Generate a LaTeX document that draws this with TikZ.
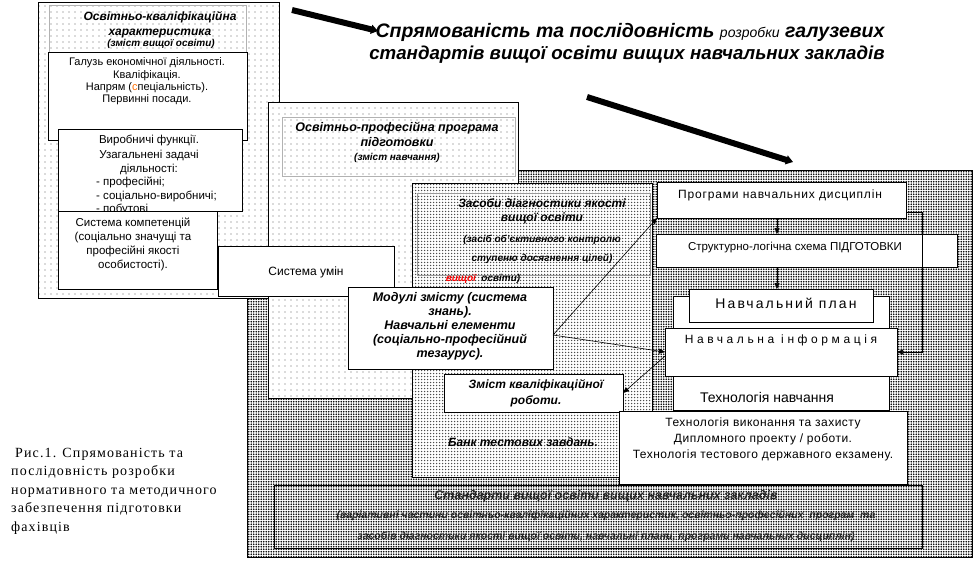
\documentclass[tikz,border=0pt]{standalone}
\usepackage{fontspec}
\setmainfont{Liberation Sans}
\newfontfamily\capfont{Liberation Serif}
\usetikzlibrary{patterns,arrows.meta}
\pgfdeclarepatternformonly{sdots}{\pgfqpoint{-1pt}{-1pt}}{\pgfqpoint{7pt}{7pt}}{\pgfqpoint{6pt}{6pt}}{\pgfpathcircle{\pgfqpoint{3pt}{3pt}}{0.55pt}\pgfusepath{fill}}
\pgfdeclarepatternformonly{mdots}{\pgfqpoint{-1pt}{-1pt}}{\pgfqpoint{4pt}{4pt}}{\pgfqpoint{3pt}{3pt}}{\pgfpathcircle{\pgfqpoint{1.5pt}{1.5pt}}{0.75pt}\pgfusepath{fill}}
\pgfdeclarepatternformonly{ddots}{\pgfqpoint{-1pt}{-1pt}}{\pgfqpoint{3.5pt}{3.5pt}}{\pgfqpoint{2.5pt}{2.5pt}}{\pgfpathcircle{\pgfqpoint{1.25pt}{1.25pt}}{0.95pt}\pgfusepath{fill}}
\definecolor{orng}{RGB}{255,110,0}
\tikzset{
  rect/.style={anchor=north west, inner sep=0pt, outer sep=0pt},
  wbox/.style={rect, draw=black, line width=0.8pt, fill=white},
  lightbox/.style={rect, draw=black, line width=0.8pt, preaction={fill=white}, pattern=sdots, pattern color=black!60},
  medbox/.style={rect, draw=black, line width=0.8pt, preaction={fill=white}, pattern=mdots, pattern color=black!70},
  darkbox/.style={rect, draw=black, line width=0.8pt, preaction={fill=white}, pattern=ddots, pattern color=black},
  gbox/.style={rect, draw=black!30, line width=1pt},
  txt/.style={inner sep=0pt, align=center, font=\fontsize{11.5}{14}\selectfont},
  bitxt/.style={inner sep=0pt, align=center, font=\fontsize{12}{14.5}\selectfont\bfseries\itshape},
  conn/.style={line width=0.6pt, -{Triangle[length=6pt,width=5pt]}},
  bigarrow/.style={line width=6pt, -{Triangle[length=7pt,width=9pt]}},
}
\begin{document}
\begin{tikzpicture}[x=1pt,y=-1pt]
\useasboundingbox (0,0) rectangle (973,573);
% big dark box
\node[darkbox, minimum width=725pt, minimum height=387pt] (cbox) at (247,170) {};
% box A
\node[lightbox, minimum width=241pt, minimum height=296pt] (abox) at (38,2) {};
\node[gbox, minimum width=197pt, minimum height=52pt] (atitle) at (49,5) {};
\node[bitxt, font=\fontsize{12}{14.5}\selectfont\bfseries\itshape] (atxt1) at (160,25) {Освітньо-кваліфікаційна\\характеристика};
\node[bitxt, font=\fontsize{10}{12}\selectfont\bfseries\itshape] (atxt2) at (161,44) {(зміст вищої освіти)};
\node[wbox, minimum width=199pt, minimum height=88pt] (galuz) at (48,52) {};
\node[txt, font=\fontsize{11}{12.4}\selectfont] (galuzt) at (147,81.5) {Галузь економічної діяльності.\\Кваліфікація.\\Напрям ({\color{orng}с}пеціальність).\\Первинні посади.};
\node[wbox, minimum width=184pt, minimum height=82pt] (vyrob) at (58,129) {};
\node[txt, font=\fontsize{11.5}{14.5}\selectfont] (vyrobt) at (149,155) {Виробничі функції.\\Узагальнені задачі\\діяльності:};
\node[txt, anchor=west, align=left, font=\fontsize{11.5}{13.5}\selectfont] (vyrobl) at (96,196) {- професійні;\\- соціально-виробничі;\\- побутові};
\node[wbox, minimum width=159pt, minimum height=78pt] (komp) at (58,211) {};
\node[txt, font=\fontsize{11.5}{14}\selectfont] (kompt) at (133,244) {Система компетенцій\\(соціально значущі та\\професійні якості\\особистості).};
% box B
\node[lightbox, minimum width=250pt, minimum height=296pt] (bbox) at (268,102) {};
\node[gbox, minimum width=233pt, minimum height=59pt] (btitle) at (282,117) {};
\node[bitxt, font=\fontsize{12.5}{15}\selectfont\bfseries\itshape] (btxt1) at (397,134.5) {Освітньо-професійна програма\\підготовки};
\node[bitxt, font=\fontsize{10}{12}\selectfont\bfseries\itshape] (btxt2) at (397,158) {(зміст навчання)};
% box D
\node[medbox, minimum width=240pt, minimum height=294pt] (dbox) at (412,183) {};
\node[gbox, draw=black!40, minimum width=233pt, minimum height=82pt] (dtitle) at (417,193) {};
\node[bitxt] (dtxt1) at (542,211.5) {Засоби діагностики якості\\вищої освіти};
\node[bitxt, font=\fontsize{10}{19}\selectfont\bfseries\itshape] (dtxt2) at (542,249.5) {(засіб об'єктивного контролю\\ступеню досягнення цілей)};
\node[bitxt, font=\fontsize{10}{12}\selectfont\bfseries\itshape] (dtxt3) at (483,279) {{\color{red}вищої} \ освіти)};
% system of skills
\node[wbox, minimum width=176pt, minimum height=50pt] (umin) at (218,246) {};
\node[txt, font=\fontsize{12}{14}\selectfont] (umint) at (306,272) {Система умін};
% modules
\node[wbox, minimum width=205pt, minimum height=82pt] (mod) at (348,287) {};
\node[bitxt, font=\fontsize{12.5}{14}\selectfont\bfseries\itshape] (modt) at (450,326) {Модулі змісту (система\\знань).\\Навчальні елементи\\(соціально-професійний\\тезаурус).};
% qualification work
\node[wbox, minimum width=179pt, minimum height=38pt] (zmist) at (444,374) {};
\node[bitxt, font=\fontsize{12}{16}\selectfont\bfseries\itshape] (zmistt) at (536,393) {Зміст кваліфікаційної\\роботи.};
\node[bitxt] (bank) at (523,442) {Банк тестових завдань.};
% right column
\node[wbox, minimum width=249pt, minimum height=36pt] (prog) at (657,182) {};
\node[txt, font=\fontsize{12}{14}\selectfont\addfontfeature{LetterSpace=7}] (progt) at (780,195) {Програми навчальних дисциплін};
\node[wbox, minimum width=301pt, minimum height=33pt] (struct) at (656,234) {};
\node[txt, font=\fontsize{11.5}{14}\selectfont] (structt) at (795,248) {Структурно-логічна схема ПІДГОТОВКИ};
\node[wbox, minimum width=216pt, minimum height=114pt] (planbg) at (673,296) {};
\node[wbox, minimum width=184pt, minimum height=33pt] (plan) at (689,289) {};
\node[txt, font=\fontsize{14}{16}\selectfont\addfontfeature{LetterSpace=15}] (plant) at (786,303) {Навчальний план};
\node[wbox, minimum width=232pt, minimum height=48pt] (info) at (665,328) {};
\node[txt, font=\fontsize{12}{14}\selectfont\addfontfeature{LetterSpace=30}] (infot) at (781,340) {Навчальна інформація};
\node[txt, font=\fontsize{14}{16}\selectfont] (techn) at (767,397) {Технологія навчання};
\node[wbox, minimum width=288pt, minimum height=73pt] (tech) at (619,411) {};
\node[txt, font=\fontsize{12}{16}\selectfont\addfontfeature{LetterSpace=4}] (techt) at (763,439) {Технологія виконання та захисту\\Дипломного проекту / роботи.\\Технологія тестового державного екзамену.};
% bottom standards box
\node[rect, draw=black, line width=0.8pt, minimum width=648pt, minimum height=63pt] (ebox) at (274,485) {};
\node[bitxt, text=black!85, font=\fontsize{12.5}{14}\selectfont\bfseries\itshape] (etxt1) at (606,496) {Стандарти вищої освіти вищих навчальних закладів};
\node[bitxt, text=black!85, font=\fontsize{10.5}{21}\selectfont\bfseries\itshape] (etxt2) at (606,526.5) {(варіативні частини освітньо-кваліфікаційних характеристик, освітньо-професійних \ програм \ та\\засобів діагностики якості вищої освіти, навчальні плани, програми навчальних дисциплін)};
% connectors
\draw[conn] ([xshift=-4.5pt]prog.south) -- ([xshift=-4.5pt]prog.south |- struct.north);
\draw[conn] ([xshift=-4pt]plan.north |- struct.south) -- ([xshift=-4pt]plan.north);
\draw[conn] ([yshift=-12pt]prog.east) -- ++(16,0) |- (info.east);
\draw[conn] ([yshift=-7pt]mod.east) -- (prog.south west);
\draw[conn] ([yshift=-7pt]mod.east) -- (info.west);
\draw[conn] ([yshift=-4pt]info.west) -- (zmist.east);
% title
\node[inner sep=0pt, font=\fontsize{19.5}{22}\selectfont\bfseries\itshape] (t1) at (630,32) {Спрямованість та послідовність {\mdseries\fontsize{14}{15}\selectfont розробки} галузевих};
\node[inner sep=0pt, font=\fontsize{18.7}{22}\selectfont\bfseries\itshape] (t2) at (627,55) {стандартів вищої освіти вищих навчальних закладів};
\coordinate (a1s) at (292,10);
\coordinate (a1e) at (378,31);
\coordinate (a2s) at (587,97);
\coordinate (a2e) at (793,162);
\draw[bigarrow] (a1s) -- (a1e);
\draw[bigarrow] (a2s) -- (a2e);
% caption
\node[anchor=north west, align=left, inner sep=0pt, font=\capfont\fontsize{14}{18.5}\selectfont\addfontfeature{LetterSpace=8}] (cap) at (11,448) {\hspace{4pt}Рис.1. Спрямованість та\\послідовність розробки\\нормативного та методичного\\забезпечення підготовки\\фахівців};
\end{tikzpicture}
\end{document}
